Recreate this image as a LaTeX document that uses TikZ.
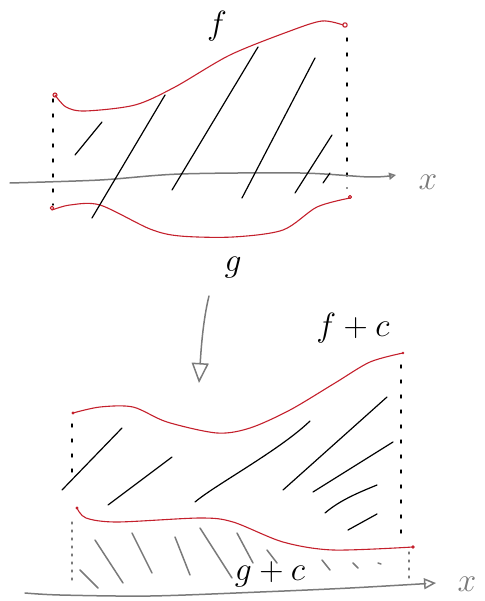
\documentclass[tikz,border=0pt]{standalone}
\usepackage{amsmath,amssymb}
\usepackage{xcolor}
\usepackage{tikz}
\usetikzlibrary{arrows.meta,positioning,calc}

\definecolor{penred}{HTML}{C4202C}
\definecolor{pengray}{HTML}{7A7A7A}

\begin{document}
\begin{tikzpicture}[x=1pt,y=-1pt,
    line cap=round, line join=round,
    redcurve/.style={penred, line width=1.1pt},
    hatch/.style={black, line width=1.2pt},
    grayhatch/.style={pengray, line width=1.5pt},
    dotline/.style={black, line width=1.4pt, dash pattern=on 3pt off 12pt},
    graydots/.style={pengray, line width=1.3pt, dash pattern=on 2pt off 6pt},
    axis/.style={pengray, line width=1.5pt},
    lab/.style={font=\Huge, scale=1.35, inner sep=0pt}]
    \useasboundingbox (0,0) rectangle (484,601);

    % obere Skizze: f und g
    \draw[dotline] (53,99) -- (53,205);
    \draw[dotline] (347,38) -- (347,188);
    \draw[axis, -{Triangle[open,length=7pt,width=7pt]}]
        plot[smooth] coordinates {(10,183) (100,180) (180,174) (300,173) (370,177) (396,175)};
    \node[lab, pengray] (labx1) at (428,182) {$x$};

    \draw[redcurve] plot[smooth] coordinates {(55,95) (66,107) (85,111) (135,105) (175,87) (230,55) (290,31) (322,21) (343,25)};
    \draw[redcurve] (55,95) circle (2);
    \draw[redcurve] (345,25) circle (2.2);
    \draw[redcurve] plot[smooth] coordinates {(52,210) (70,205) (100,205) (150,229) (180,236) (233,237) (283,230) (317,207) (350,198)};
    \draw[redcurve] (52,208) circle (1.8);
    \draw[redcurve] (350,197) circle (1.6);

    % Schraffur oben
    \draw[hatch] (75,155) -- (102,122);
    \draw[hatch] (92,218) -- (165,95);
    \draw[hatch] (172,190) -- (258,47);
    \draw[hatch] (242,198) -- (315,58);
    \draw[hatch] (295,193) -- (332,135);
    \draw[hatch] (323,183) -- (330,173);

    \node[lab] (labf) at (217,26) {$f$};
    \node[lab] (labg) at (233,268) {$g$};

    % Pfeil nach unten
    \coordinate (arrtop) at (209,296);
    \coordinate (arrbot) at (199,383);
    \draw[axis, -{Triangle[open,length=20pt,width=17pt]}]
        (arrtop) .. controls (203,320) and (201,350) .. (arrbot);

    % untere Skizze: f+c und g+c
    \node[lab] (labfc) at (353,328) {$f+c$};

    \draw[dotline] (72,424) -- (72,475);
    \draw[dotline] (401,365) -- (401,535);
    \draw[graydots] (72,522) -- (72,582);
    \draw[graydots] (409,552) -- (409,582);

    \draw[redcurve] plot[smooth] coordinates {(73,413) (100,407) (133,407) (167,422) (217,433) (250,428) (290,410) (335,383) (370,362) (403,353)};
    \draw[redcurve] plot[smooth] coordinates {(77,508) (86,518) (117,522) (200,518) (233,522) (283,542) (333,550) (413,547)};
    \fill[penred] (73,413) circle (1.6);
    \fill[penred] (403,353) circle (1.4);
    \fill[penred] (77,508) circle (1.6);
    \fill[penred] (413,547) circle (1.8);

    % Schraffur zwischen den Kurven
    \draw[hatch] (62,490) -- (122,428);
    \draw[hatch] (108,505) -- (172,457);
    \draw[hatch] (195,502) .. controls (215,485) and (280,450) .. (310,421);
    \draw[hatch] (283,490) -- (387,397);
    \draw[hatch] (313,492) -- (393,442);
    \draw[hatch] (325,513) .. controls (340,500) and (360,492) .. (377,485);
    \draw[hatch] (348,530) -- (377,514);

    % Schraffur unter g+c
    \draw[grayhatch] (80,570) -- (98,588);
    \draw[grayhatch] (95,540) -- (123,583);
    \draw[grayhatch] (132,533) -- (152,573);
    \draw[grayhatch] (175,537) -- (190,575);
    \draw[grayhatch] (200,528) -- (232,578);
    \draw[grayhatch] (237,533) -- (253,563);
    \draw[grayhatch] (267,550) -- (277,563);
    \draw[grayhatch] (322,560) -- (330,570);
    \draw[grayhatch] (353,563) -- (358,568);
    \draw[grayhatch] (378,563) -- (381,564);

    \node[lab] (labgc) at (270,574) {$g+c$};

    \draw[axis, -{Triangle[open,length=12pt,width=11pt]}]
        plot[smooth] coordinates {(25,593) (60,595) (150,596) (260,592) (350,588) (436,583)};
    \node[lab, pengray] (labx2) at (467,584) {$x$};
\end{tikzpicture}
\end{document}
